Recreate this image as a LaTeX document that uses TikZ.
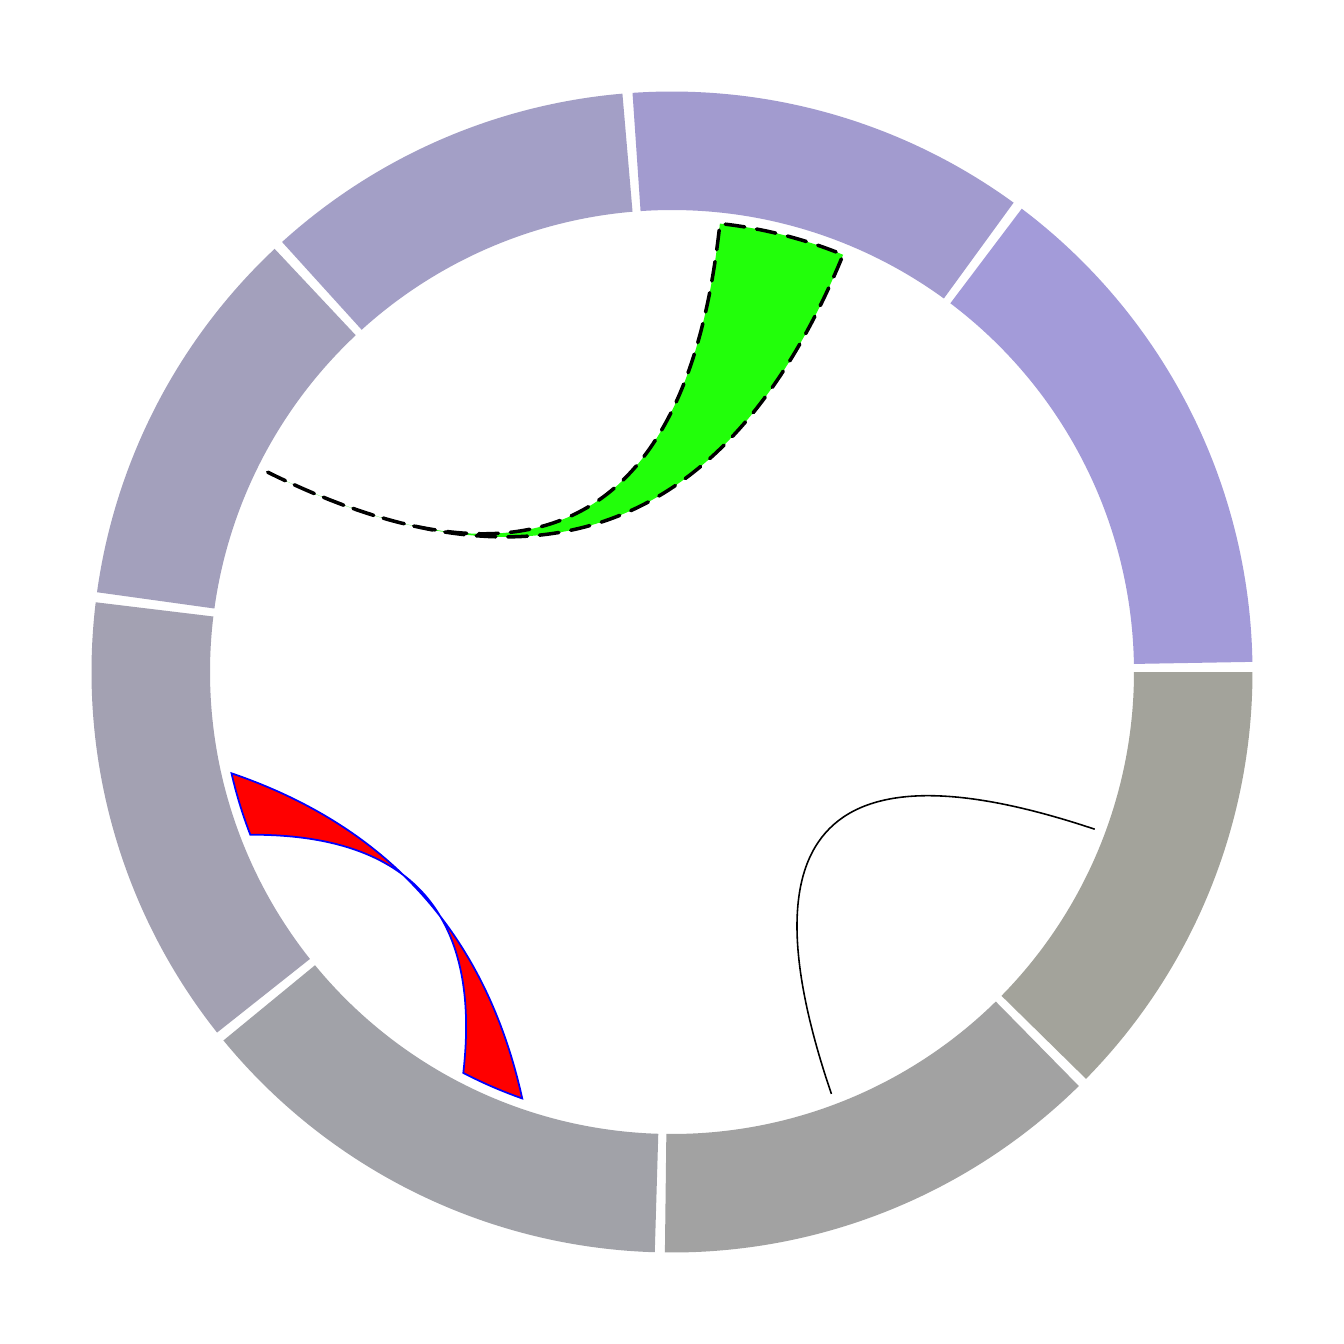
\documentclass[tikz,border=0pt]{standalone}
\usetikzlibrary{calc}
\definecolor{sA}{HTML}{A3A39B}
\definecolor{sB}{HTML}{A2A2A2}
\definecolor{sC}{HTML}{A1A2A8}
\definecolor{sD}{HTML}{A3A1B2}
\definecolor{sE}{HTML}{A3A0BC}
\definecolor{sF}{HTML}{A39FC6}
\definecolor{sG}{HTML}{A29BCF}
\definecolor{sH}{HTML}{A39BD9}
\definecolor{lgreen}{HTML}{22FF0A}
\begin{document}
\begin{tikzpicture}[x=0.01cm,y=0.01cm]
\useasboundingbox (-672,-672) rectangle (672,672);
\fill[white] (-672,-672) rectangle (672,672);
\def\ri{462}
\def\ro{580.5}
\newcommand\ringsec[3]{\fill[#3] (#1:\ri) arc[start angle=#1,end angle=#2,radius=\ri] -- (#2:\ro) arc[start angle=#2,end angle=#1,radius=\ro] -- cycle;}
\tikzset{
  greenlink/.style={fill=lgreen, draw=black, line width=1pt, dash pattern=on 5.6pt off 3.4pt, line cap=round},
  redlink/.style={fill=red, draw=blue, line width=0.5pt},
  blacklink/.style={draw=black, line width=0.45pt}
}
\ringsec{-44.5}{0}{sA}
\ringsec{269.3}{314.5}{sB}
\ringsec{219.4}{268.3}{sC}
\ringsec{173.1}{218.4}{sD}
\ringsec{133.2}{172.1}{sE}
\ringsec{94.9}{132.2}{sF}
\ringsec{53.95}{93.9}{sG}
\ringsec{1.0}{52.95}{sH}
% green link
\coordinate (gP0) at (153.7:451);
\coordinate (gP2) at (83.9:451);
\coordinate (gP3) at (67.7:451);
\coordinate (gCL) at (0,0);
\coordinate (gCR) at (0,0);
\draw[greenlink] (gP0) .. controls ($(gP0)!2/3!(gCL)$) and ($(gP2)!2/3!(gCL)$) .. (gP2)
  arc[start angle=83.9,end angle=67.7,radius=451]
  .. controls ($(gP3)!2/3!(gCR)$) and ($(gP0)!2/3!(gCR)$) .. (gP0) -- cycle;
% red link
\coordinate (rA1) at (192.95:452);
\coordinate (rA2) at (201.1:452);
\coordinate (rB1) at (242.5:452);
\coordinate (rB2) at (250.65:452);
\coordinate (rCU) at (-204,-182);
\coordinate (rCL) at (-181.3,-161.8);
\draw[redlink] (rA1) .. controls ($(rA1)!2/3!(rCU)$) and ($(rB2)!2/3!(rCU)$) .. (rB2)
  arc[start angle=250.65,end angle=242.5,radius=452]
  .. controls ($(rB1)!2/3!(rCL)$) and ($(rA2)!2/3!(rCL)$) .. (rA2)
  arc[start angle=201.1,end angle=192.95,radius=452] -- cycle;
% black link
\coordinate (bQ0) at (339.6:451);
\coordinate (bQ2) at (290.7:451);
\coordinate (bC) at (23.8,-23.7);
\draw[blacklink] (bQ0) .. controls ($(bQ0)!2/3!(bC)$) and ($(bQ2)!2/3!(bC)$) .. (bQ2);
\end{tikzpicture}
\end{document}
